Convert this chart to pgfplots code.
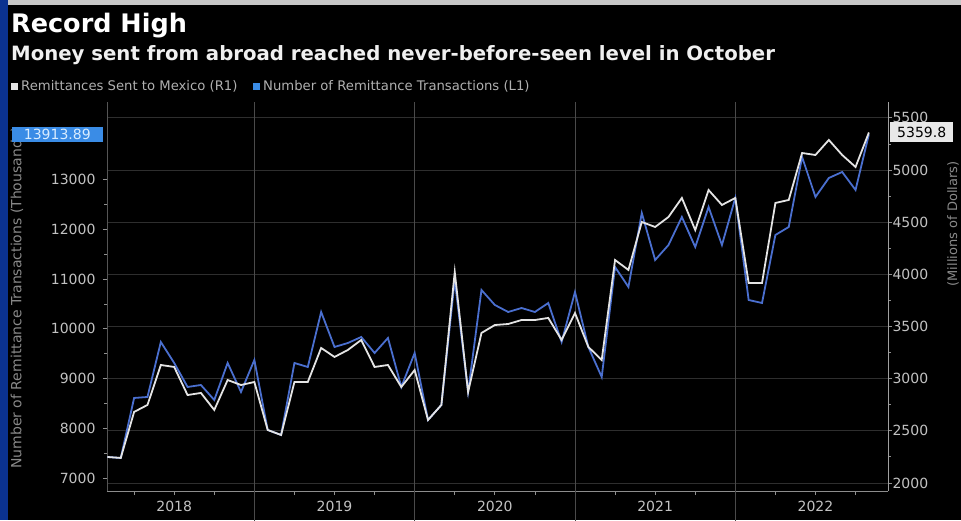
\documentclass[border=0pt]{standalone}
\usepackage{fontspec}
\setmainfont{DejaVu Sans}
\usepackage{pgfplots}
\usepackage{pgfplotstable}
\pgfplotsset{compat=1.18}

\definecolor{bbblue}{HTML}{4A6FCF}
\definecolor{bbwhite}{HTML}{E4E4E4}
\definecolor{strip}{HTML}{0B3290}
\definecolor{gridc}{HTML}{2E2E2E}
\definecolor{yearline}{HTML}{4A4A4A}
\definecolor{tickline}{HTML}{909090}
\definecolor{ticktext}{HTML}{C2C2C2}
\definecolor{leftline}{HTML}{555555}
\definecolor{rightline}{HTML}{A0A0A0}
\definecolor{xline}{HTML}{8C8C8C}
\definecolor{boxblue}{HTML}{3A8CE6}
\definecolor{boxbluetext}{HTML}{D8ECFF}
\definecolor{boxwhite}{HTML}{E8E8E8}
\definecolor{legendtext}{HTML}{B0B0B0}
\definecolor{axtitle}{HTML}{8A8A8A}

% month index 0 = Jan 2018 ... 57 = Oct 2022
% rem: remittances (millions, right axis), trans: transactions (thousands, left axis)
\pgfplotstableread{
m rem trans
0 2249 7423
1 2240 7402
2 2681 8610
3 2748 8630
4 3131 9736
5 3112 9314
6 2843 8831
7 2863 8871
8 2700 8569
9 2987 9314
10 2939 8730
11 2968 9374
12 2508 7966
13 2460 7865
14 2968 9314
15 2968 9233
16 3294 10340
17 3208 9636
18 3275 9716
19 3371 9837
20 3112 9515
21 3131 9817
22 2920 8831
23 3083 9515
24 2604 8167
25 2748 8469
26 4022 10984
27 2872 8730
28 3438 10783
29 3514 10481
30 3524 10340
31 3562 10420
32 3562 10340
33 3582 10521
34 3371 9736
35 3629 10742
36 3304 9636
37 3179 9032
38 4137 11245
39 4042 10843
40 4502 12332
41 4454 11386
42 4550 11688
43 4732 12251
44 4425 11648
45 4808 12453
46 4665 11688
47 4732 12634
48 3917 10581
49 3917 10521
50 4684 11889
51 4713 12050
52 5163 13459
53 5144 12654
54 5288 13036
55 5144 13157
56 5029 12795
57 5359.8 13913.89
}\data

\pgfplotsset{
  bbaxis/.style={
    scale only axis, width=781pt, height=389pt,
    at={(107pt,29pt)}, anchor=south west,
    xmin=-0.03, xmax=58.43,
    clip=false,
    tick align=outside,
    major tick length=4pt, minor tick length=2.5pt,
    tick style={draw=tickline, line width=0.8pt},
    ticklabel style={font=\fontsize{14}{16}\selectfont, text=ticktext},
    scaled y ticks=false,
    /pgf/number format/assume math mode=true,
    /pgf/number format/1000 sep={},
    /pgf/number format/fixed,
  },
}

\begin{document}
\begin{tikzpicture}[x=1pt,y=1pt]
\useasboundingbox (0,0) rectangle (961,520);
\clip (0,0) rectangle (961,520);
\fill[black] (0,0) rectangle (961,520);

% axis titles (drawn first, the value boxes sit over them)
\node[rotate=90, text=axtitle, font=\fontsize{14}{16}\selectfont]
  at (17,222) {Number of Remittance Transactions (Thousands)};
\node[rotate=90, text=axtitle, font=\fontsize{13}{15}\selectfont]
  at (953,296) {(Millions of Dollars)};

% horizontal grid (right axis scale)
\begin{axis}[bbaxis, ymin=1923, ymax=5652,
  ytick={2000,2500,...,5500}, yticklabels={}, xtick=\empty,
  ymajorgrids, major grid style={draw=gridc, line width=0.8pt},
  axis line style={draw=none}, major tick length=0pt]
\addplot[draw=none] coordinates {(0,3000) (57,3000)};
\end{axis}

% left axis: number of transactions
\begin{axis}[bbaxis, ymin=6738, ymax=14565,
  axis y line*=left, axis x line*=bottom,
  y axis line style={draw=leftline, line width=0.8pt, -},
  x axis line style={draw=xline, line width=1pt, -},
  ytick={7000,8000,...,13000}, minor y tick num=1,
  yticklabel style={xshift=-4pt},
  xtick={2,5,8,14,17,20,26,29,32,38,41,44,50,53,56},
  xticklabels={,2018,,,2019,,,2020,,,2021,,,2022,},
  xticklabel style={yshift=-5pt, inner sep=1pt},
  extra x ticks={11,23,35,47}, extra x tick labels={},
  extra x tick style={xmajorgrids=true,
    major grid style={draw=yearline, line width=0.9pt},
    major tick length=30pt,
    tick style={draw=yearline, line width=0.9pt}},
]
\addplot[bbblue, line width=1.8pt] table[x=m, y=trans]{\data};
\node[fill=boxblue, text=boxbluetext, anchor=east, inner sep=1pt,
  minimum width=91pt, minimum height=15pt,
  font=\fontsize{14}{15}\selectfont, xshift=-4pt]
  at ({rel axis cs:0,0}|-{axis cs:0,13913.89}) {13913.89};
\end{axis}

% right axis: remittances
\begin{axis}[bbaxis, ymin=1923, ymax=5652,
  axis y line*=right, axis x line=none,
  y axis line style={draw=rightline, line width=1pt, -},
  ytick={2000,2500,...,5500}, minor y tick num=1,
  yticklabel style={xshift=-3pt},
  xtick=\empty]
\addplot[bbwhite, line width=1.8pt] table[x=m, y=rem]{\data};
\node[fill=boxwhite, text=black, anchor=west, inner sep=1pt,
  minimum width=63pt, minimum height=20pt,
  font=\fontsize{14}{15}\selectfont, xshift=2pt]
  at ({rel axis cs:1,0}|-{axis cs:0,5359.8}) {5359.8};
\end{axis}

% titles
\node[anchor=base west, inner sep=0, text=white,
  font=\fontsize{25.5}{30}\selectfont\bfseries] at (11,487) {Record High};
\node[anchor=base west, inner sep=0, text=white!94!black,
  font=\fontsize{19.7}{24}\selectfont\bfseries] at (11,459)
  {Money sent from abroad reached never-before-seen level in October};

% legend
\fill[bbwhite] (11,430) rectangle (18,437);
\node[anchor=west, inner sep=0, text=legendtext,
  font=\fontsize{13.2}{15}\selectfont] at (21,434) {Remittances Sent to Mexico (R1)};
\fill[boxblue] (253,430) rectangle (260,437);
\node[anchor=west, inner sep=0, text=legendtext,
  font=\fontsize{13.2}{15}\selectfont] at (263,434) {Number of Remittance Transactions (L1)};

% frame
\fill[black!22] (0,515) rectangle (961,520);
\fill[strip] (0,0) rectangle (8,520);
\end{tikzpicture}
\end{document}
